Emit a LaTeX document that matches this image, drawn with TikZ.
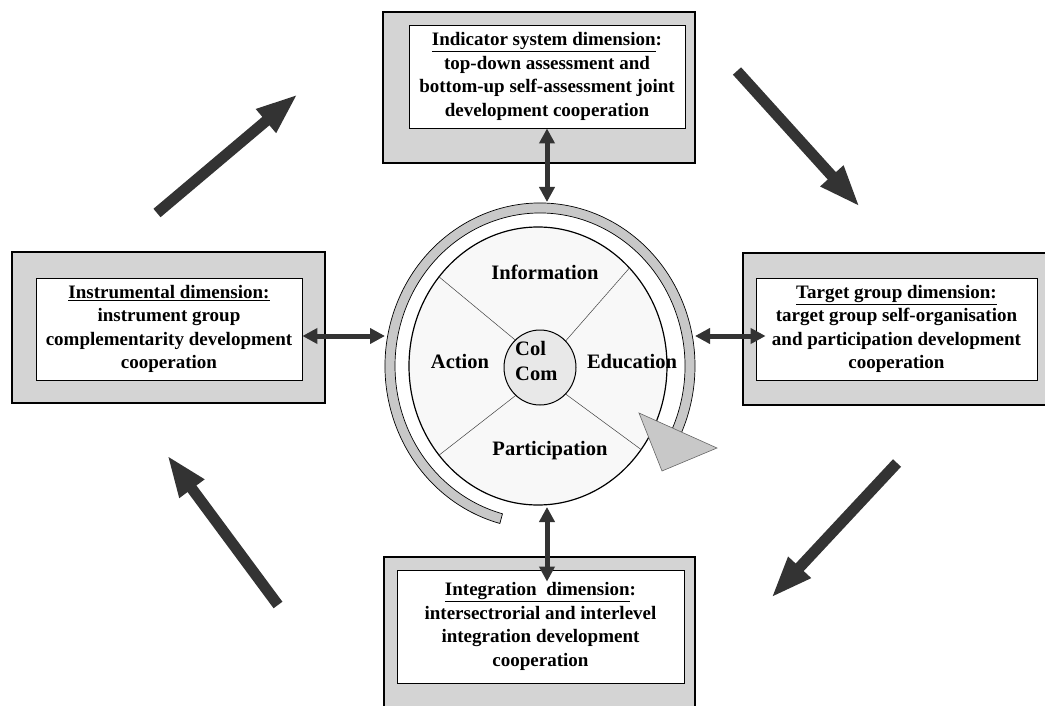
\documentclass[tikz,border=0pt]{standalone}
\usepackage{fontspec}
\setmainfont{Liberation Serif}
\usetikzlibrary{positioning,calc,shapes.geometric,arrows.meta}

\definecolor{boxgray}{RGB}{212,212,212}
\definecolor{ringgray}{RGB}{200,200,200}
\definecolor{arrowdark}{RGB}{51,51,51}
\definecolor{wheelfill}{RGB}{248,248,248}
\definecolor{corefill}{RGB}{232,232,232}

\tikzset{
  dimbox/.style={draw=black, line width=1.2pt, fill=boxgray, inner sep=0pt},
  dimtext/.style={draw=black, line width=0.8pt, fill=white, inner sep=0pt,
    align=center, font=\fontsize{19}{23.5}\selectfont\bfseries},
  wheeltext/.style={font=\fontsize{20.5}{25}\selectfont\bfseries, inner sep=0pt},
  spoke/.style={draw=black!75, line width=0.5pt},
  duo/.style={arrowdark, line width=5pt,
    {Triangle[length=15pt,width=15pt]}-{Triangle[length=15pt,width=15pt]}},
  bigarrow/.style={arrowdark, line width=11pt, -{Triangle[length=42pt,width=28pt]}},
}

\begin{document}
\begin{tikzpicture}[x=1pt, y=-1pt]
    \useasboundingbox (0,0) rectangle (1045,706);
    \clip (0,0) rectangle (1045,706);

    % the four dimensions
    \node[dimbox, minimum width=312pt, minimum height=151pt] (indbox) at (539,87.5) {};
    \node[dimtext, minimum width=276pt, minimum height=103pt] (indtext) at (547,76.5)
        {\underline{Indicator system dimension}:\\top-down assessment and\\bottom-up self-assessment joint\\development cooperation};

    \node[dimbox, minimum width=313pt, minimum height=151pt] (instbox) at (168.5,327.5) {};
    \node[dimtext, minimum width=266pt, minimum height=102pt] (insttext) at (169,329)
        {\underline{Instrumental dimension:}\\instrument group\\complementarity development\\cooperation};

    \node[dimbox, minimum width=313pt, minimum height=152pt] (targbox) at (899.5,329) {};
    \node[dimtext, minimum width=281pt, minimum height=102pt] (targtext) at (896.5,329)
        {\underline{Target group dimension:}\\target group self-organisation\\and participation development\\cooperation};

    \node[dimbox, minimum width=311pt, minimum height=163pt] (intbox) at (539.5,638.5) {};
    \node[dimtext, minimum width=287pt, minimum height=113pt] (intext) at (540.5,626.5)
        {\underline{Integration\ \ dimension}:\\intersectrorial and interlevel\\integration development\\cooperation};

    % the wheel
    \coordinate (ringc) at (540,366);
    \node[ellipse, draw=black, line width=1.2pt, fill=wheelfill, inner sep=0pt,
          minimum width=258pt, minimum height=278pt] (wheel) at (538,366) {};
    \node[ellipse, inner sep=0pt, minimum width=72pt, minimum height=75pt] (core) at (540,367.5) {};
    \draw[spoke] (wheel.138) -- (core.132);
    \draw[spoke] (wheel.47)  -- (core.46);
    \draw[spoke] (wheel.222) -- (core.229);
    \draw[spoke] (wheel.321) -- (core.314);
    \node[ellipse, draw=black, line width=1pt, fill=corefill, inner sep=0pt,
          minimum width=72pt, minimum height=75pt] at (core) {};

    \node[wheeltext, anchor=base] (info) at (545,279) {Information};
    \node[wheeltext, anchor=base] (action) at (460,368) {Action};
    \node[wheeltext, anchor=base] (edu) at (632,368) {Education};
    \node[wheeltext, anchor=base] (part) at (550,455) {Participation};
    \node[wheeltext, align=left, anchor=west] (colcom) at (515,361) {Col\\Com};

    % turning ring and its head
    \filldraw[fill=ringgray, draw=black, line width=0.7pt]
        ($(ringc)+(105:155 and 163)$) arc[start angle=105, end angle=387, x radius=155, y radius=163]
        -- ($(ringc)+(387:145 and 153)$) arc[start angle=387, end angle=105, x radius=145, y radius=153]
        -- cycle;
    \filldraw[fill=ringgray, draw=black!60, line width=0.6pt] (639,413) -- (717,448) -- (662,471) -- cycle;

    % links between wheel and dimensions
    \coordinate (ringN) at (547,202);
    \coordinate (ringS) at (547,507);
    \coordinate (ringW) at (385,336);
    \coordinate (ringE) at (695,336);
    \draw[duo] (indtext.south) -- (ringN);
    \draw[duo] (ringS) -- ($(intext.north -| ringS)+(0,12)$);
    \draw[duo] (insttext.east |- ringW) -- (ringW);
    \draw[duo] (ringE) -- ($(targtext.west |- ringE)+(10,0)$);

    % big arrows round the cycle
    \foreach \xa/\ya/\xb/\yb in {157/213/298/94, 737/71/860/207, 897/463/771/598, 278/605/167/455}
        \draw[bigarrow] (\xa,\ya) -- (\xb,\yb);
\end{tikzpicture}
\end{document}
